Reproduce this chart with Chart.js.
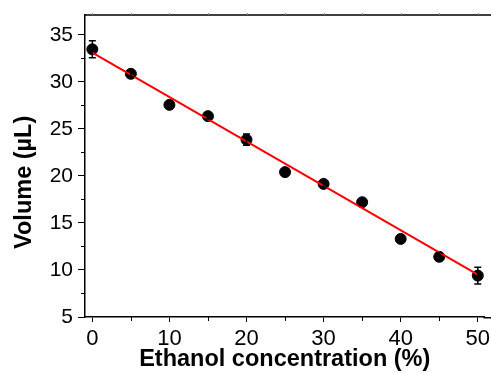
<!DOCTYPE html>
<html>
<head>
<meta charset="utf-8">
<script src="https://cdn.jsdelivr.net/npm/chart.js@4.4.0/dist/chart.umd.min.js"></script>
<style>
    html, body { margin: 0; padding: 0; background: #fff; }
    #wrap { width: 491px; height: 374px; }
</style>
</head>
<body>
<div id="wrap"><canvas id="volumeChart"></canvas></div>
<script>
(function(){
    "use strict";

    // Data
    const concentrations = [0, 5, 10, 15, 20, 25, 30, 35, 40, 45, 50];
    const volumes = [33.45, 30.85, 27.55, 26.35, 23.85, 20.4, 19.15, 17.2, 13.3, 11.4, 9.4];
    const volumeErrors = [0.9, 0.3, 0.3, 0.3, 0.6, 0.3, 0.3, 0.3, 0.3, 0.4, 0.9];
    const fitX = [0, 50];
    const fitY = [33.1, 9.5];
    const xTicks = [0, 10, 20, 30, 40, 50];
    const yTicks = [5, 10, 15, 20, 25, 30, 35];

    const points = concentrations.map((c, i) => ({ x: c, y: volumes[i] }));
    const fitLine = fitX.map((c, i) => ({ x: c, y: fitY[i] }));

    /**
     * Draws error bars, minor ticks and the frame lines that run off the right edge.
     */
    const extrasPlugin = {
        id: 'extras',
        afterDatasetsDraw(chart) {
            const ctx = chart.ctx;
            const xs = chart.scales.x;
            const ys = chart.scales.y;
            ctx.save();
            ctx.strokeStyle = '#000';
            ctx.lineWidth = 1.5;
            concentrations.forEach((c, i) => {
                const px = xs.getPixelForValue(c);
                const top = ys.getPixelForValue(volumes[i] + volumeErrors[i]);
                const bot = ys.getPixelForValue(volumes[i] - volumeErrors[i]);
                ctx.beginPath();
                ctx.moveTo(px, top); ctx.lineTo(px, bot);
                ctx.moveTo(px - 3.5, top); ctx.lineTo(px + 3.5, top);
                ctx.moveTo(px - 3.5, bot); ctx.lineTo(px + 3.5, bot);
                ctx.stroke();
            });
            ctx.restore();
        },
        afterDraw(chart) {
            const ctx = chart.ctx;
            const area = chart.chartArea;
            const xs = chart.scales.x;
            const ys = chart.scales.y;
            ctx.save();
            ctx.strokeStyle = '#000';
            ctx.lineWidth = 1.5;
            // top frame line and bottom axis run to the edge of the picture
            ctx.beginPath();
            ctx.moveTo(area.left, area.top);
            ctx.lineTo(chart.width, area.top);
            ctx.moveTo(area.right - 1, area.bottom + 0.75);
            ctx.lineTo(chart.width, area.bottom + 0.75);
            ctx.stroke();
            ctx.lineWidth = 1;
            ctx.beginPath();
            // minor y ticks
            for (let v = 7.5; v < 37; v += 5) {
                const py = Math.round(ys.getPixelForValue(v)) + 0.5;
                ctx.moveTo(area.left - 4, py); ctx.lineTo(area.left, py);
            }
            // minor x ticks
            for (let v = 5; v < 51; v += 10) {
                const px = Math.round(xs.getPixelForValue(v)) + 0.5;
                ctx.moveTo(px, area.bottom); ctx.lineTo(px, area.bottom + 4);
            }
            ctx.stroke();
            // small ticks on top line
            ctx.strokeStyle = '#888';
            ctx.beginPath();
            for (let v = 0; v < 51; v += 5) {
                const px = Math.round(xs.getPixelForValue(v)) + 0.5;
                ctx.moveTo(px, area.top); ctx.lineTo(px, area.top - 2);
            }
            ctx.stroke();
            ctx.restore();
        }
    };

    function createChart() {
        const ctx = document.getElementById('volumeChart').getContext('2d');
        new Chart(ctx, {
            type: 'scatter',
            data: {
                datasets: [{
                    label: 'fit',
                    type: 'line',
                    data: fitLine,
                    borderColor: '#ff0000',
                    borderWidth: 2,
                    pointRadius: 0,
                    fill: false,
                    order: 0
                }, {
                    label: 'Volume',
                    data: points,
                    backgroundColor: '#000',
                    borderColor: '#000',
                    pointRadius: 5.5,
                    order: 1
                }]
            },
            options: {
                responsive: true,
                maintainAspectRatio: false,
                animation: false,
                layout: { padding: { top: 15, right: 0, left: 0, bottom: 0 } },
                plugins: {
                    legend: { display: false },
                    tooltip: { enabled: false }
                },
                scales: {
                    x: {
                        type: 'linear',
                        min: -0.95,
                        max: 50.87,
                        afterBuildTicks: (scale) => { scale.ticks = xTicks.map(v => ({ value: v })); },
                        afterFit: (scale) => {
                            scale.height = 57;
                            scale.paddingLeft = 0;
                            scale.paddingRight = 0;
                        },
                        grid: { drawOnChartArea: false, tickLength: 5, color: '#000', tickWidth: 1 },
                        border: { display: true, color: '#000', width: 1.5 },
                        ticks: {
                            color: '#000',
                            padding: 4,
                            font: { family: 'Liberation Sans, Arial', size: 22 }
                        },
                        title: {
                            display: true,
                            text: 'Ethanol concentration (%)',
                            color: '#000',
                            padding: { top: 0, bottom: 0 },
                            font: { family: 'Liberation Sans, Arial', size: 23.5, weight: 'bold' }
                        }
                    },
                    y: {
                        type: 'linear',
                        min: 5,
                        max: 37.1,
                        afterBuildTicks: (scale) => { scale.ticks = yTicks.map(v => ({ value: v })); },
                        afterFit: (scale) => {
                            scale.width = 85;
                            scale.paddingTop = 0;
                            scale.paddingBottom = 0;
                        },
                        grid: { drawOnChartArea: false, tickLength: 7, color: '#000', tickWidth: 1 },
                        border: { display: true, color: '#000', width: 1.5 },
                        ticks: {
                            color: '#000',
                            padding: 5,
                            font: { family: 'Liberation Sans, Arial', size: 21 }
                        },
                        title: {
                            display: true,
                            // trailing spaces push the rotated title down like in the picture
                            text: 'Volume (\u00b5L)\u00a0\u00a0\u00a0\u00a0\u00a0',
                            color: '#000',
                            padding: { top: 10, bottom: 0 },
                            font: { family: 'Liberation Sans, Arial', size: 23.5, weight: 'bold' }
                        }
                    }
                }
            },
            plugins: [extrasPlugin]
        });
    }

    createChart();
})();
</script>
</body>
</html>
